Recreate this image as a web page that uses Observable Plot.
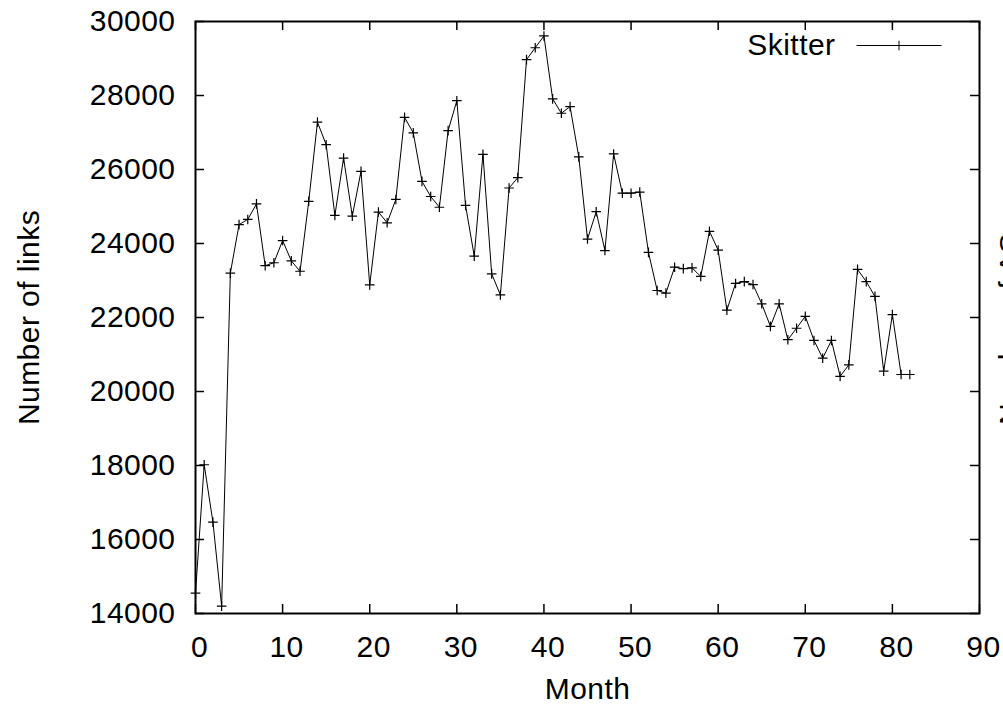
<!DOCTYPE html>
<html>
<head>
<meta charset="utf-8">
<script src="https://cdn.jsdelivr.net/npm/d3@7"></script>
<script src="https://cdn.jsdelivr.net/npm/@observablehq/plot@0.6"></script>
<style>
  html, body { margin: 0; padding: 0; background: #fff; }
  #chart svg { display: block; }
  #chart svg text { letter-spacing: 0.45px; }
</style>
</head>
<body>
<div id="chart"></div>
<script>
// ---- data ----
const months = [0,1,2,3,4,5,6,7,8,9,10,11,12,13,14,15,16,17,18,19,20,21,22,23,24,25,26,27,28,29,30,31,32,33,34,35,36,37,38,39,40,41,42,43,44,45,46,47,48,49,50,51,52,53,54,55,56,57,58,59,60,61,62,63,64,65,66,67,68,69,70,71,72,73,74,75,76,77,78,79,80,81,82];
const skitterLinks = [14550,18020,16470,14200,23200,24510,24650,25070,23400,23480,
  24080,23530,23250,25140,27280,26670,24760,26310,24740,25950,
  22880,24850,24560,25190,27410,26990,25680,25270,24980,27050,
  27860,25030,23660,26410,23180,22610,25500,25780,28970,29290,
  29610,27910,27520,27700,26340,24120,24860,23810,26420,25360,
  25360,25390,23760,22730,22660,23360,23320,23340,23110,24330,
  23820,22200,22920,22970,22890,22370,21760,22370,21400,21710,
  22030,21380,20900,21380,20410,20720,23300,22970,22570,20550,
  22080,20460,20460];
const xTicks = [0,10,20,30,40,50,60,70,80,90];
const yTicks = [14000,16000,18000,20000,22000,24000,26000,28000,30000];
const seriesName = "Skitter";
const xLabel = "Month";
const yLabel = "Number of links";
const y2Label = "Number of ASes";

const data = months.map((m, i) => ({month: m, links: skitterLinks[i]}));

// ---- layout ----
const W = 1003, H = 709;
const mL = 195, mR = 24, mT = 21, mB = 96;
const frameW = W - mL - mR, frameH = H - mT - mB;
const tickLen = 9;
const fs = 30;
const font = "'Liberation Sans', Arial, Helvetica, sans-serif";

const plusSymbol = {
  draw(ctx, size) {
    const r = Math.sqrt(size / Math.PI);
    ctx.moveTo(-r, 0); ctx.lineTo(r, 0);
    ctx.moveTo(0, -r); ctx.lineTo(0, r);
  }
};
const legendSymbol = {
  draw(ctx, size) {
    const r = Math.sqrt(size / Math.PI);
    ctx.moveTo(-42.5, 0); ctx.lineTo(42.5, 0);
    ctx.moveTo(-r, 0); ctx.lineTo(r, 0);
    ctx.moveTo(0, -r); ctx.lineTo(0, r);
  }
};

const chart = Plot.plot({
  width: W,
  height: H,
  marginLeft: mL,
  marginRight: mR,
  marginTop: mT,
  marginBottom: mB,
  style: {fontFamily: font, fontSize: fs + "px", background: "#fff", color: "#000", overflow: "hidden"},
  x: {domain: [0, 90], label: null},
  y: {domain: [14000, 30000], label: null},
  marks: [
    // inward ticks (bottom, top, left, right)
    Plot.tickX(xTicks, {x: d => d, stroke: "#000", strokeWidth: 1.5, insetTop: frameH - tickLen}),
    Plot.tickX(xTicks, {x: d => d, stroke: "#000", strokeWidth: 1.5, insetBottom: frameH - tickLen}),
    Plot.tickY(yTicks, {y: d => d, stroke: "#000", strokeWidth: 1.5, insetRight: frameW - tickLen}),
    Plot.tickY(yTicks, {y: d => d, stroke: "#000", strokeWidth: 1.5, insetLeft: frameW - tickLen}),
    Plot.axisX(xTicks, {tickSize: 0, tickPadding: 22, dx: 4, fontSize: fs, tickFormat: d => String(d), label: null}),
    Plot.axisY(yTicks, {tickSize: 0, tickPadding: 20, fontSize: fs, tickFormat: d => String(d), label: null}),
    Plot.frame({stroke: "#000", strokeWidth: 2}),
    Plot.line(data, {x: "month", y: "links", stroke: "#000", strokeWidth: 1}),
    Plot.dot(data, {x: "month", y: "links", symbol: plusSymbol, r: 4.8, stroke: "#000", strokeWidth: 1.2, fill: "none"}),
    // legend
    Plot.text([seriesName], {frameAnchor: "top-right", dx: -(979 - 835), dy: 24, textAnchor: "end", lineAnchor: "middle", fontSize: fs, fill: "#000"}),
    Plot.dot([seriesName], {frameAnchor: "top-right", dx: -(979 - 898.5), dy: 24, symbol: legendSymbol, r: 4.8, stroke: "#000", strokeWidth: 1, fill: "none"}),
    // axis titles
    Plot.text([yLabel], {frameAnchor: "left", dx: 38 - mL, rotate: -90, textAnchor: "middle", lineAnchor: "bottom", fontSize: fs, fill: "#000"}),
    Plot.text([xLabel], {frameAnchor: "bottom", dy: 85, textAnchor: "middle", lineAnchor: "bottom", fontSize: fs, fill: "#000"}),
    Plot.text([y2Label], {frameAnchor: "right", dx: 40, dy: -5, rotate: -90, textAnchor: "middle", lineAnchor: "bottom", fontSize: fs, fill: "#000"})
  ]
});
document.getElementById("chart").appendChild(chart);
</script>
</body>
</html>
